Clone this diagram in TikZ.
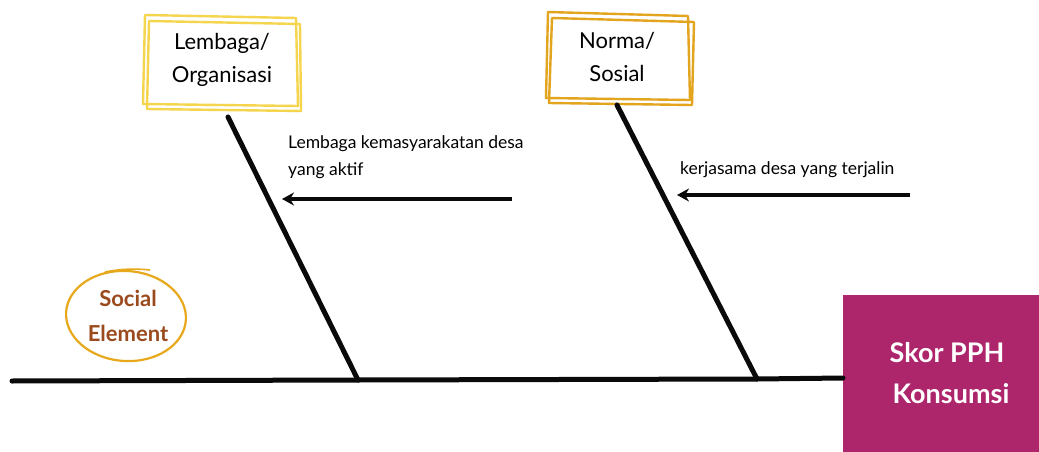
\documentclass[tikz,border=0pt]{standalone}
\usepackage{fontspec}
\setmainfont{Lato}
\usetikzlibrary{arrows.meta}
\definecolor{spinecol}{HTML}{0A0A0A}
\definecolor{headcol}{HTML}{AD256A}
\definecolor{lembagacol}{HTML}{F6D54E}
\definecolor{normacol}{HTML}{E3A41E}
\definecolor{ringcol}{HTML}{E8A81C}
\definecolor{browncol}{HTML}{9A4A1C}
\tikzset{
  bone/.style={line width=5pt, color=spinecol, line cap=round},
  causearrow/.style={line width=3.4pt, color=spinecol, -{Stealth[length=12pt,width=13pt]}},
  sketch/.style={line width=2.4pt, line join=round},
  labeltext/.style={font=\fontsize{17.5}{27}\selectfont, align=left, anchor=west, inner sep=0pt},
  boxtext/.style={font=\fontsize{22}{33}\selectfont, align=center, inner sep=0pt},
}
\begin{document}
\begin{tikzpicture}[x=1pt,y=-1pt]
\useasboundingbox (0,0) rectangle (1039,452);
\fill[white] (0,0) rectangle (1039,452);

% effect box at the head of the spine
\node[fill=headcol, minimum width=196pt, minimum height=157pt, inner sep=0pt, anchor=north west] (head) at (843,295) {};
\node[text=white, font=\bfseries\fontsize{27}{41}\selectfont, align=center] (headtext) at (947,373) {Skor PPH\\\hspace{8pt}Konsumsi};

% spine
\coordinate (tail) at (12,381);
\coordinate (j1) at (358,380);
\coordinate (j2) at (757,379);
\draw[bone] (tail) -- (j1) -- (j2) -- (head.west |- 0,378);

% category boxes, drawn as two loose overlapping outlines
\draw[sketch, lembagacol] (145,15) -- (296,18) -- (298,106) -- (143,104) -- cycle;
\draw[sketch, lembagacol] (149,21) -- (300,24) -- (301,111) -- (147,109) -- cycle;
\node[boxtext] (lembaga) at (222,60) {Lembaga/\\Organisasi};

\draw[sketch, normacol] (548,12) -- (688,16) -- (690,100) -- (546,98) -- cycle;
\draw[sketch, normacol] (552,18) -- (694,22) -- (692,105) -- (549,103) -- cycle;
\node[boxtext] (norma) at (617,57) {Norma/\\Sosial};

% main bones
\coordinate (b1) at (228,117);
\coordinate (b2) at (617,105);
\draw[bone] (b1) -- (j1);
\draw[bone] (b2) -- (j2);

% causes
\coordinate (c1s) at (512,199);
\coordinate (c1e) at (282,199);
\draw[causearrow] (c1s) -- (c1e);
\node[labeltext] (cause1) at (288,157) {Lembaga kemasyarakatan desa\\yang aktif};

\coordinate (c2s) at (910,195);
\coordinate (c2e) at (677,195);
\draw[causearrow] (c2s) -- (c2e);
\node[labeltext] (cause2) at (680,170) {kerjasama desa yang terjalin};

% category tag
\draw[ringcol, line width=2.2pt, rotate around={-4:(126,316)}] (126,316) ellipse [x radius=60, y radius=45];
\draw[ringcol, line width=1.6pt] (105,272) .. controls (125,268) and (140,269) .. (150,270);
\node[text=browncol, font=\bfseries\fontsize{22}{35}\selectfont, align=center] (tag) at (128,316) {Social\\Element};
\end{tikzpicture}
\end{document}
